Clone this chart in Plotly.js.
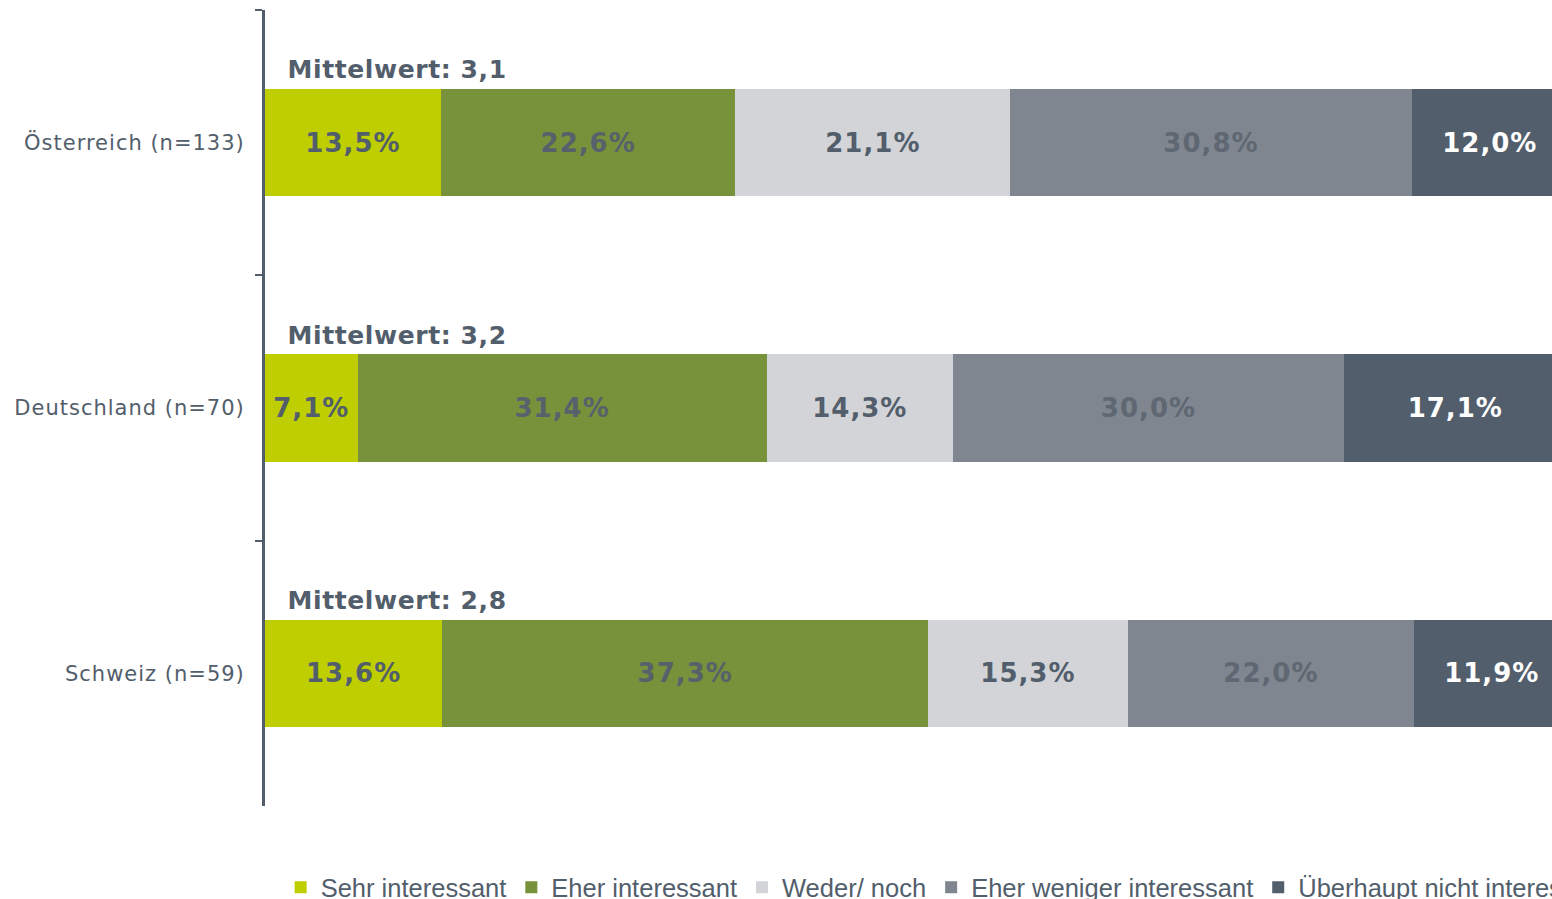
<!DOCTYPE html>
<html>
<head>
<meta charset="utf-8">
<script src="https://cdn.plot.ly/plotly-3.0.1.min.js"></script>
<style>
  html, body { margin: 0; padding: 0; overflow: hidden; background: #ffffff; }
  #chart { width: 1700px; height: 930px; }
  #chart .ytick text { letter-spacing: 1px; }
  #chart text.bartext { letter-spacing: 1px; }
  #chart .annotation-text { letter-spacing: 0.6px; }
</style>
</head>
<body>
<div id="chart"></div>
<script>
// ---- data ----
const countries = ["Österreich (n=133)", "Deutschland (n=70)", "Schweiz (n=59)"];
const means = ["3,1", "3,2", "2,8"];
const seriesNames = ["Sehr interessant", "Eher interessant", "Weder/ noch", "Eher weniger interessant", "Überhaupt nicht interessant"];
const sehr = [13.5, 7.1, 13.6];
const eher = [22.6, 31.4, 37.3];
const weder = [21.1, 14.3, 15.3];
const eherWeniger = [30.8, 30.0, 22.0];
const ueberhaupt = [12.0, 17.1, 11.9];

// ---- styles ----
const seriesValues = [sehr, eher, weder, eherWeniger, ueberhaupt];
const colors = ["#BFCE00", "#77923A", "#D3D4D8", "#7F868F", "#525E6B"];
const textColors = ["#525E6B", "#56616C", "#525E6B", "#5E6772", "#FFFFFF"];
const dark = "#525E6B";

const fmt = v => v.toFixed(1).replace(".", ",") + "%";

const traces = seriesValues.map((vals, i) => ({
  type: "bar",
  orientation: "h",
  name: seriesNames[i],
  y: countries,
  x: vals,
  width: 0.405,
  marker: { color: colors[i], line: { width: 0 } },
  text: vals.map(fmt),
  textposition: "inside",
  insidetextanchor: "middle",
  constraintext: "none",
  textfont: { family: "DejaVu Sans", size: 26, color: textColors[i], weight: "bold" },
  hoverinfo: "skip"
}));

const annotations = countries.map((c, i) => ({
  xref: "x", yref: "y",
  x: 1.95, y: c,
  yshift: 73,
  xanchor: "left", yanchor: "middle",
  text: "<b>Mittelwert: " + means[i] + "</b>",
  showarrow: false,
  font: { family: "DejaVu Sans", size: 25, color: dark }
}));

const layout = {
  width: 1700,
  height: 930,
  margin: { l: 265, r: 0, t: 10, b: 124, pad: 0, autoexpand: false },
  barmode: "stack",
  paper_bgcolor: "#ffffff",
  plot_bgcolor: "#ffffff",
  showlegend: true,
  legend: {
    orientation: "h",
    x: 0.0109, xanchor: "left",
    y: -0.073, yanchor: "top",
    font: { family: "Liberation Sans, Arial, sans-serif", size: 25.5, color: dark },
    traceorder: "normal",
    itemclick: false
  },
  xaxis: {
    domain: [0, 0.908],
    range: [0, 100],
    showgrid: false, zeroline: false, showline: false,
    showticklabels: false, ticks: "", fixedrange: true
  },
  yaxis: {
    type: "category",
    categoryorder: "array",
    categoryarray: countries,
    autorange: false,
    range: [2.5, -0.5],
    showgrid: false, zeroline: false,
    showline: true, linecolor: dark, linewidth: 3,
    ticks: "outside", tickson: "boundaries", ticklen: 7, tickwidth: 2, tickcolor: dark,
    ticklabelstandoff: 13,
    tickfont: { family: "DejaVu Sans", size: 21, color: dark },
    fixedrange: true
  },
  annotations: annotations
};

Plotly.newPlot("chart", traces, layout, { displayModeBar: false, staticPlot: true });
</script>
</body>
</html>
